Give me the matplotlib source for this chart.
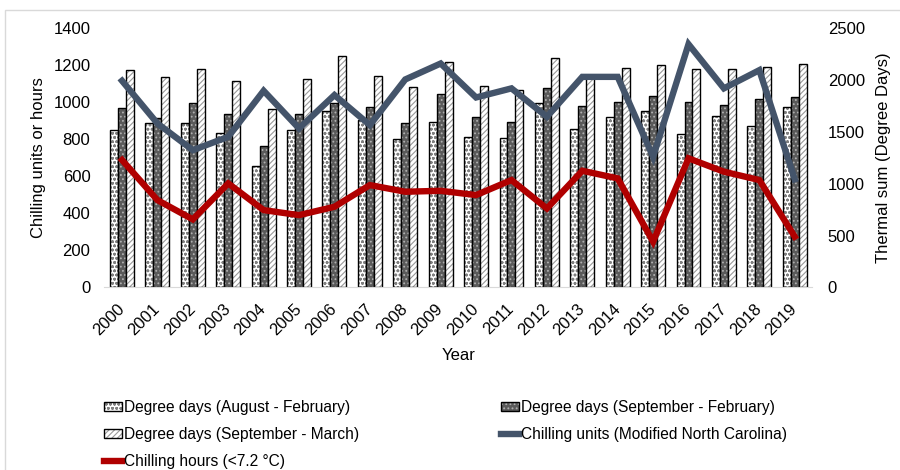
import matplotlib.pyplot as plt
import numpy as np
from matplotlib.patches import Patch, Rectangle
from matplotlib.lines import Line2D
from matplotlib.legend_handler import HandlerTuple

plt.rcParams['font.family'] = ['Liberation Sans', 'DejaVu Sans']
plt.rcParams['hatch.linewidth'] = 0.8

years = [str(y) for y in range(2000, 2020)]

# thermal sums (degree days), right axis
dd_aug_feb = [1514, 1585, 1579, 1483, 1171, 1514, 1697, 1611, 1428, 1591,
              1444, 1437, 1771, 1524, 1642, 1697, 1473, 1652, 1553, 1738]
dd_sep_feb = [1723, 1633, 1771, 1668, 1358, 1668, 1774, 1733, 1579, 1858,
              1642, 1588, 1921, 1748, 1781, 1838, 1786, 1752, 1812, 1829]
dd_sep_mar = [2091, 2021, 2101, 1988, 1713, 2008, 2229, 2036, 1928, 2165,
              1935, 1896, 2204, 2014, 2113, 2139, 2104, 2098, 2123, 2146]

# chilling, left axis
chill_units = [1114, 884, 740, 812, 1060, 857, 1037, 875, 1121, 1207,
               1024, 1073, 920, 1135, 1135, 704, 1311, 1073, 1171, 583]
chill_hours = [687, 471, 367, 561, 417, 390, 435, 552, 516, 521,
               498, 579, 426, 629, 588, 247, 696, 624, 579, 274]

fig = plt.figure(figsize=(9, 4.7), dpi=100)
fig.patches.append(Rectangle((5 / 900, -0.1), 1.2, 1 - 10 / 470 + 0.1,
                             transform=fig.transFigure, fill=False,
                             edgecolor='#d9d9d9', lw=1))

ax = fig.add_axes([0.1159, 0.3883, 0.7868, 0.5528])
ax2 = ax.twinx()

x = np.arange(len(years))
w = 0.225
bar_styles = [
    (dd_aug_feb, 'white', '#808080', 'oooo', 'Degree days (August - February)'),
    (dd_sep_feb, '#5a5a5a', '#b0b0b0', '....', 'Degree days (September - February)'),
    (dd_sep_mar, 'white', '#9a9a9a', '//////', 'Degree days (September - March)'),
]
bar_handles = []
for i, (vals, fc, hc, hatch, lab) in enumerate(bar_styles):
    pos = x + (i - 1) * w
    ax2.bar(pos, vals, w, color=fc, edgecolor=hc, hatch=hatch, lw=0)
    ax2.bar(pos, vals, w, fill=False, edgecolor='black', lw=1)
    bar_handles.append((Patch(facecolor=fc, edgecolor=hc, hatch=hatch, lw=0),
                        Patch(fill=False, edgecolor='black', lw=1)))

ax.plot(x, chill_units, color='#44546a', lw=4.6, solid_joinstyle='miter')
ax.plot(x, chill_hours, color='#b00000', lw=4.6, solid_joinstyle='miter')
ax.set_zorder(ax2.get_zorder() + 1)
ax.patch.set_visible(False)

ax.set_xlim(-0.5, len(years) - 0.5)
ax.set_ylim(0, 1400)
ax2.set_ylim(0, 2500)
ax.set_yticks(range(0, 1401, 200))
ax2.set_yticks(range(0, 2501, 500))
ax.set_xticks(x)
ax.set_xticklabels(years, rotation=45, ha='right', va='center',
                   rotation_mode='anchor')

for a in (ax, ax2):
    for s in a.spines.values():
        s.set_visible(False)
    a.tick_params(length=0, labelsize=12, colors='black')
ax.spines['bottom'].set_visible(True)
ax.spines['bottom'].set_color('#d9d9d9')
ax.tick_params(axis='y', pad=10)
ax2.tick_params(axis='y', pad=11)
ax.tick_params(axis='x', pad=14)

ax.set_xlabel('Year', fontsize=12, labelpad=7)
ax.set_ylabel('Chilling units or hours', fontsize=12, labelpad=5)
ax2.set_ylabel('Thermal sum (Degree Days)', fontsize=12, labelpad=8)

line_units = Line2D([], [], color='#44546a', lw=4.6)
line_hours = Line2D([], [], color='#b00000', lw=4.6)
handles = [bar_handles[0], bar_handles[2], line_hours, bar_handles[1], line_units]
labels = ['Degree days (August - February)', 'Degree days (September - March)',
          'Chilling hours (<7.2 °C)', 'Degree days (September - February)',
          'Chilling units (Modified North Carolina)']
fig.legend(handles, labels, ncol=2, loc='upper left',
           bbox_to_anchor=(96 / 900, 1 - 392 / 470), frameon=False,
           fontsize=11.2, handlelength=1.2, handleheight=0.55, handletextpad=0.1,
           labelspacing=0.78, columnspacing=9.1, borderpad=0,
           handler_map={tuple: HandlerTuple(ndivide=1, pad=0)})

fig.savefig('out.png', dpi=100)
